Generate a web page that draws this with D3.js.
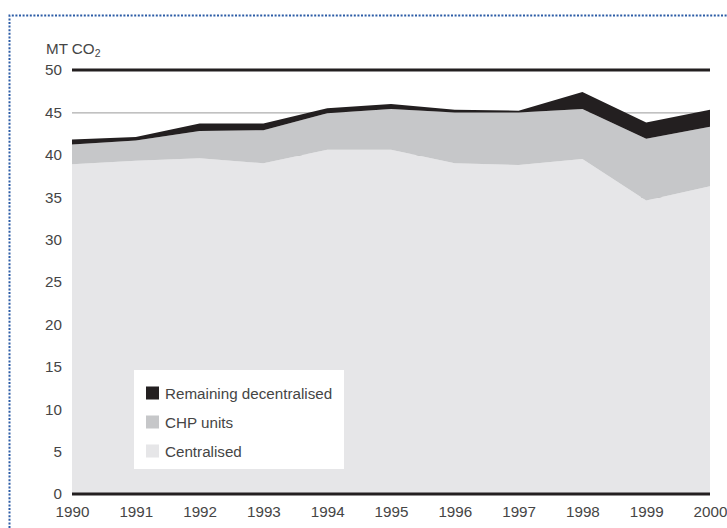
<!DOCTYPE html>
<html>
<head>
<meta charset="utf-8">
<script src="https://cdn.jsdelivr.net/npm/d3@7"></script>
<style>
  html, body { margin: 0; padding: 0; background: #ffffff; }
  svg { display: block; }
  text { font-family: "Liberation Sans", Arial, sans-serif; fill: #454545; }
</style>
</head>
<body>
<svg id="chart" width="727" height="528"></svg>
<script>
// CO2 emissions from power production, million tonnes
const years = [1990, 1991, 1992, 1993, 1994, 1995, 1996, 1997, 1998, 1999, 2000];
const centralised = [38.9, 39.3, 39.6, 39.0, 40.6, 40.6, 39.0, 38.8, 39.5, 34.6, 36.3];
const chpUnits    = [ 2.3,  2.4,  3.2,  3.9,  4.3,  4.8,  6.0,  6.2,  5.9,  7.3,  7.0];
const remaining   = [ 0.6,  0.4,  0.9,  0.8,  0.6,  0.6,  0.3,  0.2,  2.0,  1.9,  2.0];
const yTicks = [0, 5, 10, 15, 20, 25, 30, 35, 40, 45, 50];
const seriesNames = ["Centralised", "CHP units", "Remaining decentralised"];
const seriesColors = ["#e6e6e8", "#c6c7c9", "#231f20"];

const svg = d3.select("#chart");
const W = 727, H = 528;
const margin = { left: 72, right: 17, top: 70, bottom: 34 };
const fontSize = "15.2px";
const textColor = "#454545";

const x = d3.scaleLinear().domain([1990, 2000]).range([margin.left, W - margin.right]);
const y = d3.scaleLinear().domain([0, 50]).range([H - margin.bottom, margin.top]);

// dotted frame (left and top edges)
svg.append("path")
  .attr("d", `M9.5,${H} V15.5 H${W}`)
  .attr("fill", "none")
  .attr("stroke", "#2c5ca6")
  .attr("stroke-width", 2)
  .attr("stroke-dasharray", "2,1.6");

// thin gridlines behind the areas
svg.append("g")
  .selectAll("line")
  .data(yTicks.filter(t => t > 0 && t < 50))
  .join("line")
  .attr("x1", x(1990)).attr("x2", x(2000))
  .attr("y1", d => y(d) + 0.5).attr("y2", d => y(d) + 0.5)
  .attr("stroke", "#9a9a9a").attr("stroke-width", 1);

// stacked areas
const table = years.map((yr, i) => ({
  year: yr,
  "Centralised": centralised[i],
  "CHP units": chpUnits[i],
  "Remaining decentralised": remaining[i]
}));
const stack = d3.stack().keys(seriesNames);
const layers = stack(table);
const area = d3.area()
  .x(d => x(d.data.year))
  .y0(d => y(d[0]))
  .y1(d => y(d[1]));

svg.append("g")
  .selectAll("path")
  .data(layers)
  .join("path")
  .attr("d", area)
  .attr("fill", (d, i) => seriesColors[i]);

// heavy baseline and top line
svg.append("g")
  .selectAll("line")
  .data([0, 50])
  .join("line")
  .attr("x1", x(1990)).attr("x2", x(2000))
  .attr("y1", d => y(d)).attr("y2", d => y(d))
  .attr("stroke", "#231f20").attr("stroke-width", 3);

// y axis labels
const yAxis = d3.axisLeft(y).tickValues(yTicks).tickSize(0).tickPadding(10);
const gy = svg.append("g").attr("transform", `translate(${margin.left},0)`).call(yAxis);
gy.select(".domain").remove();
gy.selectAll("text")
  .style("font-family", "'Liberation Sans', Arial, sans-serif")
  .style("font-size", fontSize)
  .style("fill", textColor);

// x axis labels
const xAxis = d3.axisBottom(x).tickValues(years).tickFormat(d3.format("d")).tickSize(0).tickPadding(12);
const gx = svg.append("g").attr("transform", `translate(0,${H - margin.bottom})`).call(xAxis);
gx.select(".domain").remove();
gx.selectAll("text")
  .style("font-family", "'Liberation Sans', Arial, sans-serif")
  .style("font-size", fontSize)
  .style("fill", textColor);

// unit label
const unit = svg.append("text").attr("x", 46).attr("y", 54).style("font-size", fontSize);
unit.append("tspan").text("MT CO");
unit.append("tspan").attr("dy", 3).style("font-size", "10.5px").text("2");

// legend
const legend = svg.append("g").attr("transform", "translate(134,370)");
legend.append("rect").attr("width", 210).attr("height", 99).attr("fill", "#ffffff");
const legendItems = seriesNames.slice().reverse();
const legendColors = seriesColors.slice().reverse();
const rows = legend.selectAll("g.row")
  .data(legendItems)
  .join("g")
  .attr("class", "row")
  .attr("transform", (d, i) => `translate(12,${16.5 + i * 29})`);
rows.append("rect")
  .attr("width", 13).attr("height", 13)
  .attr("fill", (d, i) => legendColors[i]);
rows.append("text")
  .attr("x", 19).attr("y", 12)
  .style("font-size", fontSize)
  .text(d => d);
</script>
</body>
</html>
